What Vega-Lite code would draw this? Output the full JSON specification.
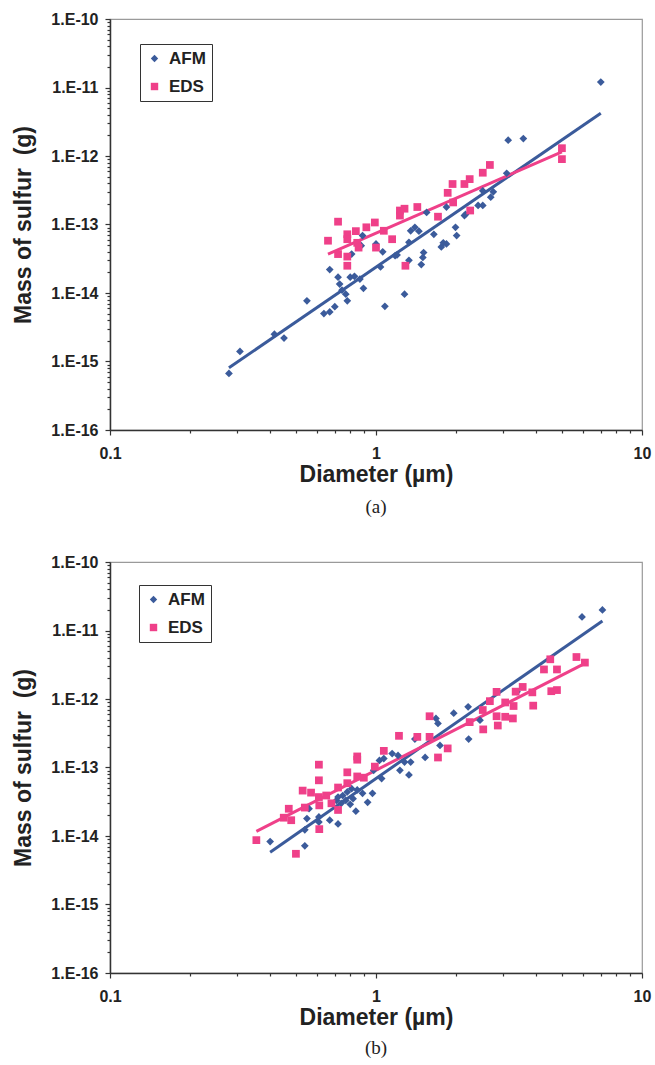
{
  "$schema": "https://vega.github.io/schema/vega-lite/v6.json",
  "padding": {"left": 12, "top": 10, "right": 4, "bottom": 4},
  "background": "white",
  "spacing": 35,
  "config": {
    "font": "Liberation Sans",
    "view": {"stroke": "#9a9a9a", "strokeWidth": 1.2},
    "axis": {
      "labelFont": "Liberation Sans", "labelFontWeight": "bold", "labelFontSize": 16, "labelColor": "#222",
      "titleFont": "Liberation Sans", "titleFontWeight": "bold", "titleFontSize": 23, "titleColor": "#222",
      "domainColor": "#333", "domainWidth": 1.5, "tickColor": "#333", "tickWidth": 1.2,
      "grid": false, "labelOverlap": false, "labelFlush": false
    },
    "legend": {
      "orient": "none", "direction": "vertical", "strokeColor": "#333", "fillColor": "white", "padding": 6,
      "labelFontSize": 17, "labelFont": "Liberation Sans", "labelFontWeight": "bold", "labelColor": "#222",
      "symbolSize": 55, "rowPadding": 10, "labelOffset": 6
    }
  },
  "datasets": {
    "a_pts": [
      {"d":0.28,"m":6.7e-16,"method":"AFM"},{"d":0.308,"m":1.4e-15,"method":"AFM"},{"d":0.415,"m":2.5e-15,"method":"AFM"},
      {"d":0.451,"m":2.2e-15,"method":"AFM"},{"d":0.55,"m":7.7e-15,"method":"AFM"},{"d":0.637,"m":5.0e-15,"method":"AFM"},
      {"d":0.67,"m":5.3e-15,"method":"AFM"},{"d":0.70,"m":6.3e-15,"method":"AFM"},{"d":0.67,"m":2.2e-14,"method":"AFM"},
      {"d":0.73,"m":1.35e-14,"method":"AFM"},{"d":0.745,"m":1.1e-14,"method":"AFM"},{"d":0.77,"m":9.6e-15,"method":"AFM"},
      {"d":0.78,"m":7.7e-15,"method":"AFM"},{"d":0.72,"m":1.7e-14,"method":"AFM"},{"d":0.80,"m":1.7e-14,"method":"AFM"},
      {"d":0.83,"m":1.75e-14,"method":"AFM"},{"d":0.87,"m":1.6e-14,"method":"AFM"},{"d":0.897,"m":1.17e-14,"method":"AFM"},
      {"d":0.81,"m":3.7e-14,"method":"AFM"},{"d":0.88,"m":4.9e-14,"method":"AFM"},{"d":0.89,"m":6.9e-14,"method":"AFM"},
      {"d":1.0,"m":5.2e-14,"method":"AFM"},{"d":1.06,"m":4.0e-14,"method":"AFM"},{"d":1.04,"m":2.4e-14,"method":"AFM"},
      {"d":1.08,"m":6.4e-15,"method":"AFM"},{"d":1.18,"m":3.5e-14,"method":"AFM"},{"d":1.2,"m":3.6e-14,"method":"AFM"},
      {"d":1.28,"m":9.6e-15,"method":"AFM"},{"d":1.33,"m":3.0e-14,"method":"AFM"},{"d":1.33,"m":5.5e-14,"method":"AFM"},
      {"d":1.35,"m":8.1e-14,"method":"AFM"},{"d":1.40,"m":9.1e-14,"method":"AFM"},{"d":1.45,"m":8.0e-14,"method":"AFM"},
      {"d":1.48,"m":2.6e-14,"method":"AFM"},{"d":1.5,"m":3.3e-14,"method":"AFM"},{"d":1.51,"m":3.9e-14,"method":"AFM"},
      {"d":1.55,"m":1.5e-13,"method":"AFM"},{"d":1.65,"m":7.2e-14,"method":"AFM"},{"d":1.76,"m":4.7e-14,"method":"AFM"},
      {"d":1.79,"m":5.4e-14,"method":"AFM"},{"d":1.84,"m":5.2e-14,"method":"AFM"},{"d":1.84,"m":1.8e-13,"method":"AFM"},
      {"d":1.99,"m":9.1e-14,"method":"AFM"},{"d":2.01,"m":6.9e-14,"method":"AFM"},{"d":2.15,"m":1.35e-13,"method":"AFM"},
      {"d":2.17,"m":1.4e-13,"method":"AFM"},{"d":2.42,"m":1.9e-13,"method":"AFM"},{"d":2.52,"m":1.9e-13,"method":"AFM"},
      {"d":2.52,"m":3.1e-13,"method":"AFM"},{"d":2.7,"m":2.5e-13,"method":"AFM"},{"d":2.76,"m":3.0e-13,"method":"AFM"},
      {"d":3.1,"m":5.6e-13,"method":"AFM"},{"d":3.14,"m":1.7e-12,"method":"AFM"},{"d":3.58,"m":1.8e-12,"method":"AFM"},
      {"d":7.0,"m":1.2e-11,"method":"AFM"},
      {"d":0.66,"m":5.8e-14,"method":"EDS"},{"d":0.72,"m":1.1e-13,"method":"EDS"},{"d":0.72,"m":3.7e-14,"method":"EDS"},
      {"d":0.78,"m":7.2e-14,"method":"EDS"},{"d":0.78,"m":6.1e-14,"method":"EDS"},{"d":0.78,"m":3.4e-14,"method":"EDS"},
      {"d":0.78,"m":2.5e-14,"method":"EDS"},{"d":0.84,"m":8.0e-14,"method":"EDS"},{"d":0.85,"m":5.4e-14,"method":"EDS"},
      {"d":0.86,"m":4.6e-14,"method":"EDS"},{"d":0.92,"m":9.1e-14,"method":"EDS"},{"d":0.99,"m":1.07e-13,"method":"EDS"},
      {"d":1.0,"m":4.6e-14,"method":"EDS"},{"d":1.07,"m":8.1e-14,"method":"EDS"},{"d":1.15,"m":6.1e-14,"method":"EDS"},
      {"d":1.23,"m":1.6e-13,"method":"EDS"},{"d":1.23,"m":1.35e-13,"method":"EDS"},{"d":1.28,"m":1.7e-13,"method":"EDS"},
      {"d":1.29,"m":2.5e-14,"method":"EDS"},{"d":1.43,"m":1.8e-13,"method":"EDS"},{"d":1.71,"m":1.3e-13,"method":"EDS"},
      {"d":1.86,"m":2.9e-13,"method":"EDS"},{"d":1.94,"m":3.9e-13,"method":"EDS"},{"d":1.95,"m":2.1e-13,"method":"EDS"},
      {"d":2.15,"m":3.9e-13,"method":"EDS"},{"d":2.25,"m":4.6e-13,"method":"EDS"},{"d":2.26,"m":1.6e-13,"method":"EDS"},
      {"d":2.52,"m":5.7e-13,"method":"EDS"},{"d":2.68,"m":7.4e-13,"method":"EDS"},{"d":5.0,"m":1.3e-12,"method":"EDS"},
      {"d":5.0,"m":9.0e-13,"method":"EDS"}
    ],
    "a_fit": [
      {"d":0.28,"m":8.1e-16,"method":"AFM"},{"d":7.0,"m":4.2e-12,"method":"AFM"},
      {"d":0.66,"m":3.7e-14,"method":"EDS"},{"d":5.0,"m":1.15e-12,"method":"EDS"}
    ],
    "b_pts": [
      {"d":0.40,"m":8.3e-15,"method":"AFM"},{"d":0.54,"m":7.2e-15,"method":"AFM"},{"d":0.54,"m":1.23e-14,"method":"AFM"},
      {"d":0.55,"m":1.8e-14,"method":"AFM"},{"d":0.56,"m":2.5e-14,"method":"AFM"},{"d":0.61,"m":1.6e-14,"method":"AFM"},
      {"d":0.61,"m":1.9e-14,"method":"AFM"},{"d":0.67,"m":1.7e-14,"method":"AFM"},{"d":0.72,"m":1.5e-14,"method":"AFM"},
      {"d":0.71,"m":3.3e-14,"method":"AFM"},{"d":0.72,"m":3.7e-14,"method":"AFM"},{"d":0.74,"m":3.0e-14,"method":"AFM"},
      {"d":0.75,"m":3.9e-14,"method":"AFM"},{"d":0.77,"m":3.3e-14,"method":"AFM"},{"d":0.78,"m":4.4e-14,"method":"AFM"},
      {"d":0.80,"m":2.9e-14,"method":"AFM"},{"d":0.81,"m":4.9e-14,"method":"AFM"},{"d":0.82,"m":3.5e-14,"method":"AFM"},
      {"d":0.84,"m":2.3e-14,"method":"AFM"},{"d":0.85,"m":4.7e-14,"method":"AFM"},{"d":0.89,"m":4.2e-14,"method":"AFM"},
      {"d":0.93,"m":3.1e-14,"method":"AFM"},{"d":0.97,"m":4.2e-14,"method":"AFM"},{"d":0.98,"m":9.1e-14,"method":"AFM"},
      {"d":1.03,"m":1.27e-13,"method":"AFM"},{"d":1.05,"m":6.9e-14,"method":"AFM"},{"d":1.07,"m":1.35e-13,"method":"AFM"},
      {"d":1.15,"m":1.6e-13,"method":"AFM"},{"d":1.21,"m":1.5e-13,"method":"AFM"},{"d":1.23,"m":9.1e-14,"method":"AFM"},
      {"d":1.28,"m":1.2e-13,"method":"AFM"},{"d":1.33,"m":7.8e-14,"method":"AFM"},{"d":1.35,"m":1.2e-13,"method":"AFM"},
      {"d":1.40,"m":2.6e-13,"method":"AFM"},{"d":1.53,"m":1.4e-13,"method":"AFM"},{"d":1.68,"m":5.2e-13,"method":"AFM"},
      {"d":1.71,"m":4.4e-13,"method":"AFM"},{"d":1.74,"m":2.1e-13,"method":"AFM"},{"d":1.96,"m":6.2e-13,"method":"AFM"},
      {"d":2.22,"m":7.7e-13,"method":"AFM"},{"d":2.23,"m":2.6e-13,"method":"AFM"},{"d":2.46,"m":4.9e-13,"method":"AFM"},
      {"d":3.39,"m":1.28e-12,"method":"AFM"},{"d":5.95,"m":1.58e-11,"method":"AFM"},{"d":7.1,"m":2.0e-11,"method":"AFM"},
      {"d":0.355,"m":8.7e-15,"method":"EDS"},{"d":0.45,"m":1.85e-14,"method":"EDS"},{"d":0.47,"m":2.5e-14,"method":"EDS"},
      {"d":0.48,"m":1.7e-14,"method":"EDS"},{"d":0.50,"m":5.5e-15,"method":"EDS"},{"d":0.53,"m":4.6e-14,"method":"EDS"},
      {"d":0.54,"m":2.6e-14,"method":"EDS"},{"d":0.57,"m":4.3e-14,"method":"EDS"},{"d":0.61,"m":1.1e-13,"method":"EDS"},
      {"d":0.61,"m":6.5e-14,"method":"EDS"},{"d":0.61,"m":3.7e-14,"method":"EDS"},{"d":0.612,"m":2.8e-14,"method":"EDS"},
      {"d":0.612,"m":1.26e-14,"method":"EDS"},{"d":0.65,"m":3.9e-14,"method":"EDS"},{"d":0.68,"m":3.0e-14,"method":"EDS"},
      {"d":0.72,"m":5.1e-14,"method":"EDS"},{"d":0.72,"m":2.4e-14,"method":"EDS"},{"d":0.78,"m":8.5e-14,"method":"EDS"},
      {"d":0.78,"m":5.9e-14,"method":"EDS"},{"d":0.85,"m":1.45e-13,"method":"EDS"},{"d":0.85,"m":1.3e-13,"method":"EDS"},
      {"d":0.85,"m":7.4e-14,"method":"EDS"},{"d":0.90,"m":7.1e-14,"method":"EDS"},{"d":0.99,"m":1.03e-13,"method":"EDS"},
      {"d":1.07,"m":1.75e-13,"method":"EDS"},{"d":1.22,"m":2.9e-13,"method":"EDS"},{"d":1.43,"m":2.8e-13,"method":"EDS"},
      {"d":1.59,"m":5.6e-13,"method":"EDS"},{"d":1.59,"m":2.8e-13,"method":"EDS"},{"d":1.71,"m":1.4e-13,"method":"EDS"},
      {"d":1.86,"m":1.9e-13,"method":"EDS"},{"d":2.25,"m":4.6e-13,"method":"EDS"},{"d":2.52,"m":6.9e-13,"method":"EDS"},
      {"d":2.53,"m":3.6e-13,"method":"EDS"},{"d":2.68,"m":9.3e-13,"method":"EDS"},{"d":2.84,"m":1.27e-12,"method":"EDS"},
      {"d":2.84,"m":5.6e-13,"method":"EDS"},{"d":2.87,"m":4.1e-13,"method":"EDS"},{"d":3.06,"m":5.5e-13,"method":"EDS"},
      {"d":3.06,"m":8.9e-13,"method":"EDS"},{"d":3.27,"m":5.2e-13,"method":"EDS"},{"d":3.29,"m":7.9e-13,"method":"EDS"},
      {"d":3.35,"m":1.28e-12,"method":"EDS"},{"d":3.56,"m":1.5e-12,"method":"EDS"},{"d":3.87,"m":1.25e-12,"method":"EDS"},
      {"d":3.9,"m":8.0e-13,"method":"EDS"},{"d":4.28,"m":2.7e-12,"method":"EDS"},{"d":4.52,"m":3.8e-12,"method":"EDS"},
      {"d":4.56,"m":1.3e-12,"method":"EDS"},{"d":4.79,"m":2.7e-12,"method":"EDS"},{"d":4.79,"m":1.35e-12,"method":"EDS"},
      {"d":5.67,"m":4.1e-12,"method":"EDS"},{"d":6.1,"m":3.4e-12,"method":"EDS"}
    ],
    "b_fit": [
      {"d":0.40,"m":5.8e-15,"method":"AFM"},{"d":7.1,"m":1.38e-11,"method":"AFM"},
      {"d":0.355,"m":1.17e-14,"method":"EDS"},{"d":6.0,"m":3.2e-12,"method":"EDS"}
    ]
  },
  "vconcat": [
    {
      "width": 532, "height": 411,
      "title": {"text": "(a)", "orient": "bottom", "anchor": "middle", "frame": "group", "font": "Liberation Serif", "fontSize": 19, "fontWeight": "normal", "color": "#222", "offset": 12},
      "encoding": {
        "x": {"field": "d", "type": "quantitative",
          "scale": {"type": "log", "domain": [0.1, 10], "nice": false},
          "axis": {"title": "Diameter (µm)", "titlePadding": 2, "tickSize": {"condition": {"test": "datum.value == 0.1 || datum.value == 1 || datum.value == 10", "value": 5}, "value": 3}, "labelPadding": 10,
            "values": [0.1,0.2,0.3,0.4,0.5,0.6,0.7,0.8,0.9,1,2,3,4,5,6,7,8,9,10],
            "labelExpr": "datum.value == 0.1 ? '0.1' : datum.value == 1 ? '1' : datum.value == 10 ? '10' : ''"}},
        "y": {"field": "m", "type": "quantitative",
          "scale": {"type": "log", "domain": [1e-16, 1e-10], "nice": false},
          "axis": {"title": "Mass of sulfur \u00a0(g)", "titlePadding": 15, "labelPadding": 7,
            "tickSize": {"condition": {"test": "abs(log(datum.value)/LN10 - round(log(datum.value)/LN10)) < 0.001", "value": 5}, "value": 3},
            "values": [1e-16,2e-16,3e-16,4e-16,5e-16,6e-16,7e-16,8e-16,9e-16,1e-15,2e-15,3e-15,4e-15,5e-15,6e-15,7e-15,8e-15,9e-15,1e-14,2e-14,3e-14,4e-14,5e-14,6e-14,7e-14,8e-14,9e-14,1e-13,2e-13,3e-13,4e-13,5e-13,6e-13,7e-13,8e-13,9e-13,1e-12,2e-12,3e-12,4e-12,5e-12,6e-12,7e-12,8e-12,9e-12,1e-11,2e-11,3e-11,4e-11,5e-11,6e-11,7e-11,8e-11,9e-11,1e-10],
            "labelExpr": "abs(log(datum.value)/LN10 - round(log(datum.value)/LN10)) < 0.001 ? '1.E' + round(log(datum.value)/LN10) : ''"}}
      },
      "layer": [
        {"data": {"name": "a_fit"}, "transform": [{"filter": "datum.method == 'AFM'"}], "mark": {"type": "line", "strokeWidth": 3, "color": "#3b5b9b"}},
        {"data": {"name": "a_fit"}, "transform": [{"filter": "datum.method == 'EDS'"}], "mark": {"type": "line", "strokeWidth": 3, "color": "#ef4089"}},
        {"data": {"name": "a_pts"}, "mark": {"type": "point", "filled": true, "opacity": 1, "size": 60},
          "encoding": {
            "color": {"field": "method", "type": "nominal", "scale": {"domain": ["AFM", "EDS"], "range": ["#3b5b9b", "#ef4089"]},
              "legend": {"orient": "none", "legendX": 30, "legendY": 25, "title": null}},
            "shape": {"field": "method", "type": "nominal", "scale": {"domain": ["AFM", "EDS"], "range": ["diamond", "square"]},
              "legend": {"orient": "none", "legendX": 30, "legendY": 25, "title": null}}
          }}
      ]
    },
    {
      "width": 532, "height": 411,
      "title": {"text": "(b)", "orient": "bottom", "anchor": "middle", "frame": "group", "font": "Liberation Serif", "fontSize": 19, "fontWeight": "normal", "color": "#222", "offset": 10},
      "encoding": {
        "x": {"field": "d", "type": "quantitative",
          "scale": {"type": "log", "domain": [0.1, 10], "nice": false},
          "axis": {"title": "Diameter (µm)", "titlePadding": 2, "tickSize": {"condition": {"test": "datum.value == 0.1 || datum.value == 1 || datum.value == 10", "value": 5}, "value": 3}, "labelPadding": 10,
            "values": [0.1,0.2,0.3,0.4,0.5,0.6,0.7,0.8,0.9,1,2,3,4,5,6,7,8,9,10],
            "labelExpr": "datum.value == 0.1 ? '0.1' : datum.value == 1 ? '1' : datum.value == 10 ? '10' : ''"}},
        "y": {"field": "m", "type": "quantitative",
          "scale": {"type": "log", "domain": [1e-16, 1e-10], "nice": false},
          "axis": {"title": "Mass of sulfur \u00a0(g)", "titlePadding": 15, "labelPadding": 7,
            "tickSize": {"condition": {"test": "abs(log(datum.value)/LN10 - round(log(datum.value)/LN10)) < 0.001", "value": 5}, "value": 3},
            "values": [1e-16,2e-16,3e-16,4e-16,5e-16,6e-16,7e-16,8e-16,9e-16,1e-15,2e-15,3e-15,4e-15,5e-15,6e-15,7e-15,8e-15,9e-15,1e-14,2e-14,3e-14,4e-14,5e-14,6e-14,7e-14,8e-14,9e-14,1e-13,2e-13,3e-13,4e-13,5e-13,6e-13,7e-13,8e-13,9e-13,1e-12,2e-12,3e-12,4e-12,5e-12,6e-12,7e-12,8e-12,9e-12,1e-11,2e-11,3e-11,4e-11,5e-11,6e-11,7e-11,8e-11,9e-11,1e-10],
            "labelExpr": "abs(log(datum.value)/LN10 - round(log(datum.value)/LN10)) < 0.001 ? '1.E' + round(log(datum.value)/LN10) : ''"}}
      },
      "layer": [
        {"data": {"name": "b_fit"}, "transform": [{"filter": "datum.method == 'AFM'"}], "mark": {"type": "line", "strokeWidth": 3, "color": "#3b5b9b"}},
        {"data": {"name": "b_fit"}, "transform": [{"filter": "datum.method == 'EDS'"}], "mark": {"type": "line", "strokeWidth": 3, "color": "#ef4089"}},
        {"data": {"name": "b_pts"}, "mark": {"type": "point", "filled": true, "opacity": 1, "size": 60},
          "encoding": {
            "color": {"field": "method", "type": "nominal", "scale": {"domain": ["AFM", "EDS"], "range": ["#3b5b9b", "#ef4089"]},
              "legend": {"orient": "none", "legendX": 29, "legendY": 23, "title": null}},
            "shape": {"field": "method", "type": "nominal", "scale": {"domain": ["AFM", "EDS"], "range": ["diamond", "square"]},
              "legend": {"orient": "none", "legendX": 29, "legendY": 23, "title": null}}
          }}
      ]
    }
  ],
  "resolve": {"scale": {"color": "independent", "shape": "independent"}, "legend": {"color": "independent", "shape": "independent"}}
}
